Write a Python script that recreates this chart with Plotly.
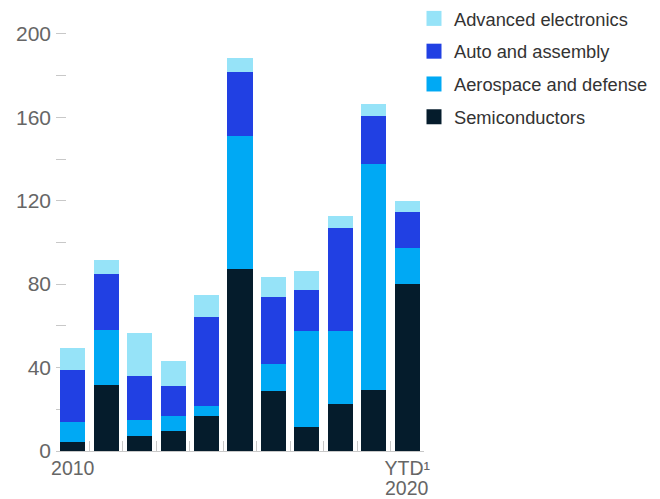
import plotly.graph_objects as go

years = ["2010", "2011", "2012", "2013", "2014", "2015", "2016", "2017", "2018", "2019", "2020"]
tick_text = ["2010", "", "", "", "", "", "", "", "", "", "YTD¹"]
last_year_label = "2020"

semiconductors = [4.3, 31.5, 7.0, 9.4, 16.6, 87.1, 28.6, 11.4, 22.4, 29.1, 79.9]
aerospace_defense = [9.5, 26.3, 7.7, 7.2, 4.8, 63.7, 12.9, 46.0, 35.0, 108.3, 17.2]
auto_assembly = [24.9, 26.9, 21.3, 14.4, 42.7, 30.7, 32.1, 19.6, 49.3, 23.0, 17.3]
advanced_electronics = [10.5, 6.7, 20.4, 12.0, 10.5, 7.1, 9.6, 9.1, 5.8, 6.2, 5.7]

series = [
    ("Semiconductors", semiconductors, "#051C2C"),
    ("Aerospace and defense", aerospace_defense, "#00A9F4"),
    ("Auto and assembly", auto_assembly, "#2140E3"),
    ("Advanced electronics", advanced_electronics, "#96E3F8"),
]

FONT = "Liberation Sans, Arial, sans-serif"
fig = go.Figure()
for name, vals, color in series:
    fig.add_trace(go.Bar(x=years, y=vals, name=name, marker=dict(color=color, line=dict(width=0)),
                         showlegend=False))
# legend entries (top to bottom: Advanced electronics ... Semiconductors)
for rank, (name, vals, color) in enumerate(reversed(series)):
    fig.add_trace(go.Scatter(x=[None], y=[None], mode="markers", name=name, legendgroup=name,
                             legendrank=rank + 1,
                             marker=dict(symbol="square", size=15, color=color), showlegend=True))

# second line of the last category label ("YTD¹" / "2020")
fig.add_annotation(x=len(years) - 1, xref="x", y=0, yref="paper", yanchor="top", yshift=-24,
                   text=last_year_label, showarrow=False,
                   font=dict(size=19.5, color="#666666", family=FONT))

fig.update_layout(
    width=660, height=499,
    barmode="stack", bargap=0.25,
    plot_bgcolor="white", paper_bgcolor="white",
    margin=dict(l=56, r=236, t=13, b=48, autoexpand=False),
    font=dict(family=FONT, size=19, color="#666666"),
    legend=dict(
        xref="container", yref="container",
        x=414 / 660, y=1.0, xanchor="left", yanchor="top",
        traceorder="grouped", tracegroupgap=6,
        font=dict(size=18.3, color="#333333", family=FONT),
        bgcolor="rgba(0,0,0,0)", itemwidth=30,
    ),
    xaxis=dict(
        type="category", tickmode="array", tickvals=years, ticktext=tick_text,
        tickangle=0, automargin=False,
        ticks="inside", tickson="boundaries", ticklen=10, tickcolor="#c8c8c8", tickwidth=1,
        showline=True, linecolor="#c8c8c8", linewidth=1,
        showgrid=False, zeroline=False, range=[-0.5, 10.5], layer="below traces",
        tickfont=dict(size=19.5, color="#666666"),
    ),
    yaxis=dict(
        range=[0, 210], tickvals=[0, 40, 80, 120, 160, 200], automargin=False,
        ticks="inside", ticklen=10, tickcolor="#c8c8c8", tickwidth=1,
        minor=dict(dtick=20, ticks="inside", ticklen=10, tickcolor="#c8c8c8", tickwidth=1),
        showline=False, showgrid=False, zeroline=False, layer="below traces",
        ticklabelstandoff=4,
        tickfont=dict(size=21, color="#666666"),
    ),
)

fig.write_html("out.html")
